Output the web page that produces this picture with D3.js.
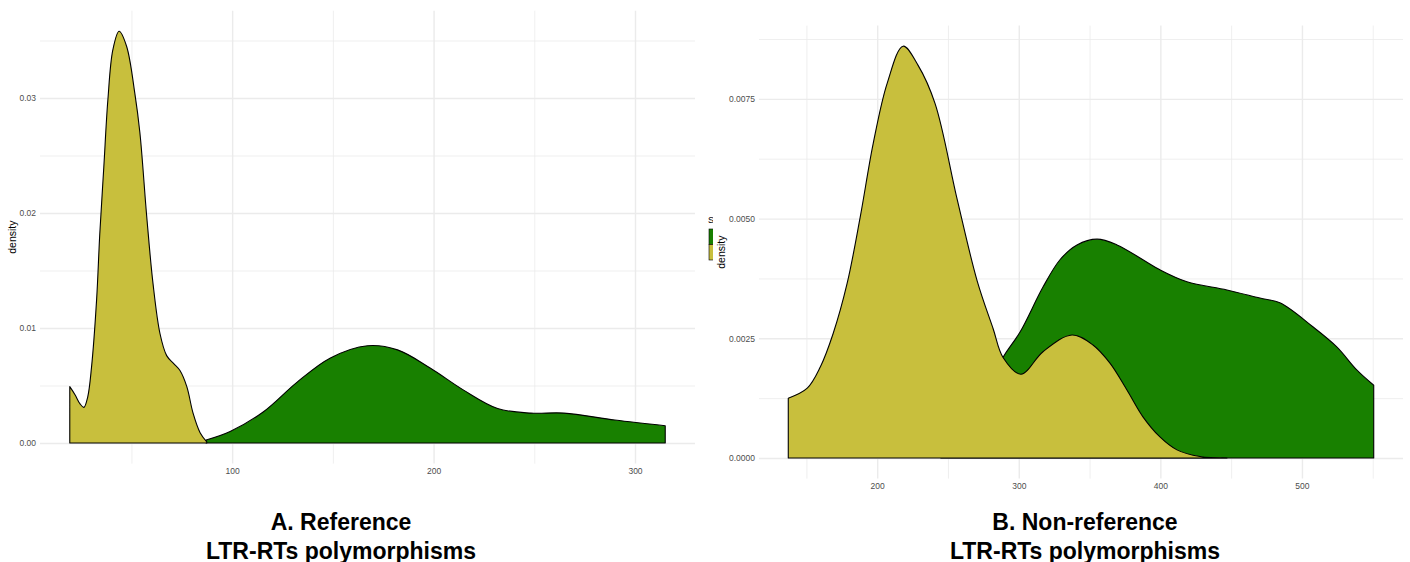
<!DOCTYPE html>
<html>
<head>
<meta charset="utf-8">
<script src="https://cdn.jsdelivr.net/npm/d3@7"></script>
<style>
  html, body { margin: 0; padding: 0; background: #fff; }
  svg { display: block; font-family: "Liberation Sans", Arial, Helvetica, sans-serif; }
</style>
</head>
<body>
<svg id="chart" width="1410" height="562"></svg>
<script>
// ---- Panel A: reference LTR-RT polymorphisms (length vs. kernel density) ----
const refYellowLen  = [19.4, 22, 24.5, 26.4, 28.3, 30.2, 32.7, 34.3, 36.3, 38.3, 40.8, 43.9, 47.6, 51.7, 54.2, 57.6, 60.7, 64.2, 67.5, 71, 74.1, 77.5, 80.6, 84.1, 87.4];
const refYellowDens = [0.0049, 0.0042, 0.0034, 0.0031, 0.0040, 0.0066, 0.0124, 0.0182, 0.0240, 0.0298, 0.0342, 0.0358, 0.0345, 0.0304, 0.0270, 0.0197, 0.0139, 0.0095, 0.0076, 0.0069, 0.0063, 0.0049, 0.0026, 0.0009, 0.0001];
const refGreenLen   = [87.1, 99, 115.4, 132.3, 148.8, 167.2, 182.1, 198.5, 214.9, 231.8, 248.3, 264.7, 290, 315];
const refGreenDens  = [0.00026, 0.0010, 0.0027, 0.0053, 0.0074, 0.00846, 0.0081, 0.0065, 0.0046, 0.0030, 0.0026, 0.0026, 0.0020, 0.0015];
const refXTicks = [100, 200, 300];
const refXMinor = [50, 150, 250];
const refYTicks = [0, 0.01, 0.02, 0.03];
const refYMinor = [0.005, 0.015, 0.025, 0.035];

// ---- Panel B: non-reference LTR-RT polymorphisms ----
const nonYellowLen  = [137.2, 150.6, 159.8, 168.9, 178.8, 188.0, 197.2, 207.1, 218.3, 228.9, 240.9, 256.5, 270.6, 281.9, 288.9, 301.6, 317.1, 337.6, 352.4, 364.4, 376.4, 387.7, 399.7, 411.7, 428.0, 447.0];
const nonYellowDens = [0.00125, 0.00146, 0.0019, 0.0026, 0.00365, 0.00503, 0.00657, 0.00783, 0.0086, 0.0082, 0.0074, 0.0054, 0.0037, 0.0027, 0.0021, 0.00175, 0.00222, 0.00257, 0.00236, 0.00198, 0.00142, 0.00086, 0.00044, 0.00017, 0.00003, 0];
const nonGreenLen   = [245, 265, 280, 288.9, 300.9, 317.1, 329.1, 341.1, 355.3, 369.4, 387.7, 399.7, 418.8, 447.0, 470.3, 484.4, 507.7, 524.6, 538.7, 550.7];
const nonGreenDens  = [0.0003, 0.0009, 0.0015, 0.0021, 0.00263, 0.00357, 0.00414, 0.00445, 0.00457, 0.00445, 0.00414, 0.00393, 0.00368, 0.00351, 0.00334, 0.00324, 0.00274, 0.00232, 0.00184, 0.00152];
const nonXTicks = [200, 300, 400, 500];
const nonXMinor = [150, 250, 350, 450, 550];
const nonYTicks = [0, 0.0025, 0.005, 0.0075];
const nonYMinor = [0.00125, 0.00375, 0.00625, 0.00875];

const panelTitles = [["A. Reference", "LTR-RTs polymorphisms"], ["B. Non-reference", "LTR-RTs polymorphisms"]];
const legendTitle = "S";

const GREEN = "#188000";
const YELLOW = "#C8BF3D";
const GRID = "#EBEBEB";

const svg = d3.select("#chart");

const zip = (xs, ys) => xs.map((x, i) => ({ x, y: ys[i] }));

function expand(lo, hi) {
  const pad = (hi - lo) * 0.05;
  return [lo - pad, hi + pad];
}

function drawPanel(opts) {
  const { box, groups, xTicks, xMinor, yTicks, yMinor, yFmt, yLabelX } = opts;
  const allX = groups.flatMap(g => g.data.map(d => d.x));
  const allY = groups.flatMap(g => g.data.map(d => d.y));
  const x = d3.scaleLinear().domain(expand(d3.min(allX), d3.max(allX))).range([box.x0, box.x1]);
  const y = d3.scaleLinear().domain(expand(0, d3.max(allY))).range([box.y1, box.y0]);

  const g = svg.append("g");

  // minor grid
  g.append("g").attr("transform", `translate(0,${box.y1})`)
    .call(d3.axisBottom(x).tickValues(xMinor).tickSize(-(box.y1 - box.y0)).tickFormat(""))
    .call(s => s.select(".domain").remove())
    .call(s => s.selectAll("line").attr("stroke", GRID).attr("stroke-width", 0.8));
  g.append("g").attr("transform", `translate(${box.x0},0)`)
    .call(d3.axisLeft(y).tickValues(yMinor).tickSize(-(box.x1 - box.x0)).tickFormat(""))
    .call(s => s.select(".domain").remove())
    .call(s => s.selectAll("line").attr("stroke", GRID).attr("stroke-width", 0.8));
  // major grid
  g.append("g").attr("transform", `translate(0,${box.y1})`)
    .call(d3.axisBottom(x).tickValues(xTicks).tickSize(-(box.y1 - box.y0)).tickFormat(""))
    .call(s => s.select(".domain").remove())
    .call(s => s.selectAll("line").attr("stroke", GRID).attr("stroke-width", 1.4));
  g.append("g").attr("transform", `translate(${box.x0},0)`)
    .call(d3.axisLeft(y).tickValues(yTicks).tickSize(-(box.x1 - box.x0)).tickFormat(""))
    .call(s => s.select(".domain").remove())
    .call(s => s.selectAll("line").attr("stroke", GRID).attr("stroke-width", 1.4));

  // density areas, clamped so the smoothed outline never dips under the baseline
  const area = d3.area()
    .x(d => x(d.x))
    .y0(y(0))
    .y1(d => y(d.y))
    .curve(d3.curveCatmullRom.alpha(0.5));
  groups.forEach(gr => {
    g.append("path").datum(gr.data)
      .attr("d", area)
      .attr("fill", gr.color)
      .attr("stroke", "#000")
      .attr("stroke-width", 1.1)
      .attr("stroke-linejoin", "round");
  });

  // tick labels
  g.append("g").attr("transform", `translate(0,${box.y1})`)
    .call(d3.axisBottom(x).tickValues(xTicks).tickSize(0).tickPadding(4).tickFormat(d3.format("d")))
    .call(s => s.select(".domain").remove())
    .call(s => s.selectAll("text").attr("fill", "#4D4D4D").attr("font-size", 8.5)
      .attr("font-family", "Liberation Sans, Arial, sans-serif"));
  g.append("g").attr("transform", `translate(${box.x0},0)`)
    .call(d3.axisLeft(y).tickValues(yTicks).tickSize(0).tickPadding(4).tickFormat(d3.format(yFmt)))
    .call(s => s.select(".domain").remove())
    .call(s => s.selectAll("text").attr("fill", "#4D4D4D").attr("font-size", 8.5)
      .attr("font-family", "Liberation Sans, Arial, sans-serif"));

  // y axis title
  g.append("text")
    .attr("transform", `translate(${yLabelX},${(box.y0 + box.y1) / 2}) rotate(-90)`)
    .attr("text-anchor", "middle")
    .attr("font-size", 10.5)
    .attr("fill", "#000")
    .text("density");
}

// Panel A
drawPanel({
  box: { x0: 40, x1: 695, y0: 10.7, y1: 463.6 },
  groups: [
    { color: GREEN, data: zip(refGreenLen, refGreenDens) },
    { color: YELLOW, data: zip(refYellowLen, refYellowDens) }
  ],
  xTicks: refXTicks, xMinor: refXMinor, yTicks: refYTicks, yMinor: refYMinor,
  yFmt: ".2f", yLabelX: 16
});

// Legend of panel A, partly hidden behind panel B
svg.append("defs").append("clipPath").attr("id", "legendClip")
  .append("rect").attr("x", 690).attr("y", 200).attr("width", 23).attr("height", 80);
const leg = svg.append("g").attr("clip-path", "url(#legendClip)");
leg.append("text").attr("x", 708).attr("y", 223).attr("font-size", 9).attr("fill", "#000").text(legendTitle);
[GREEN, YELLOW].forEach((c, i) => {
  leg.append("rect").attr("x", 709).attr("y", 229 + i * 15.5).attr("width", 17).attr("height", 15.5)
    .attr("fill", c).attr("stroke", "#000").attr("stroke-width", 0.6);
});

// Panel B
drawPanel({
  box: { x0: 759, x1: 1403, y0: 25.6, y1: 478.6 },
  groups: [
    { color: GREEN, data: zip(nonGreenLen, nonGreenDens) },
    { color: YELLOW, data: zip(nonYellowLen, nonYellowDens) }
  ],
  xTicks: nonXTicks, xMinor: nonXMinor, yTicks: nonYTicks, yMinor: nonYMinor,
  yFmt: ".4f", yLabelX: 725
});

// Panel captions
const captionX = [341, 1085];
panelTitles.forEach((lines, i) => {
  lines.forEach((t, j) => {
    svg.append("text")
      .attr("x", captionX[i]).attr("y", 530 + j * 28.5)
      .attr("text-anchor", "middle")
      .attr("font-size", 23).attr("font-weight", "bold")
      .attr("fill", "#000")
      .text(t);
  });
});
</script>
</body>
</html>
